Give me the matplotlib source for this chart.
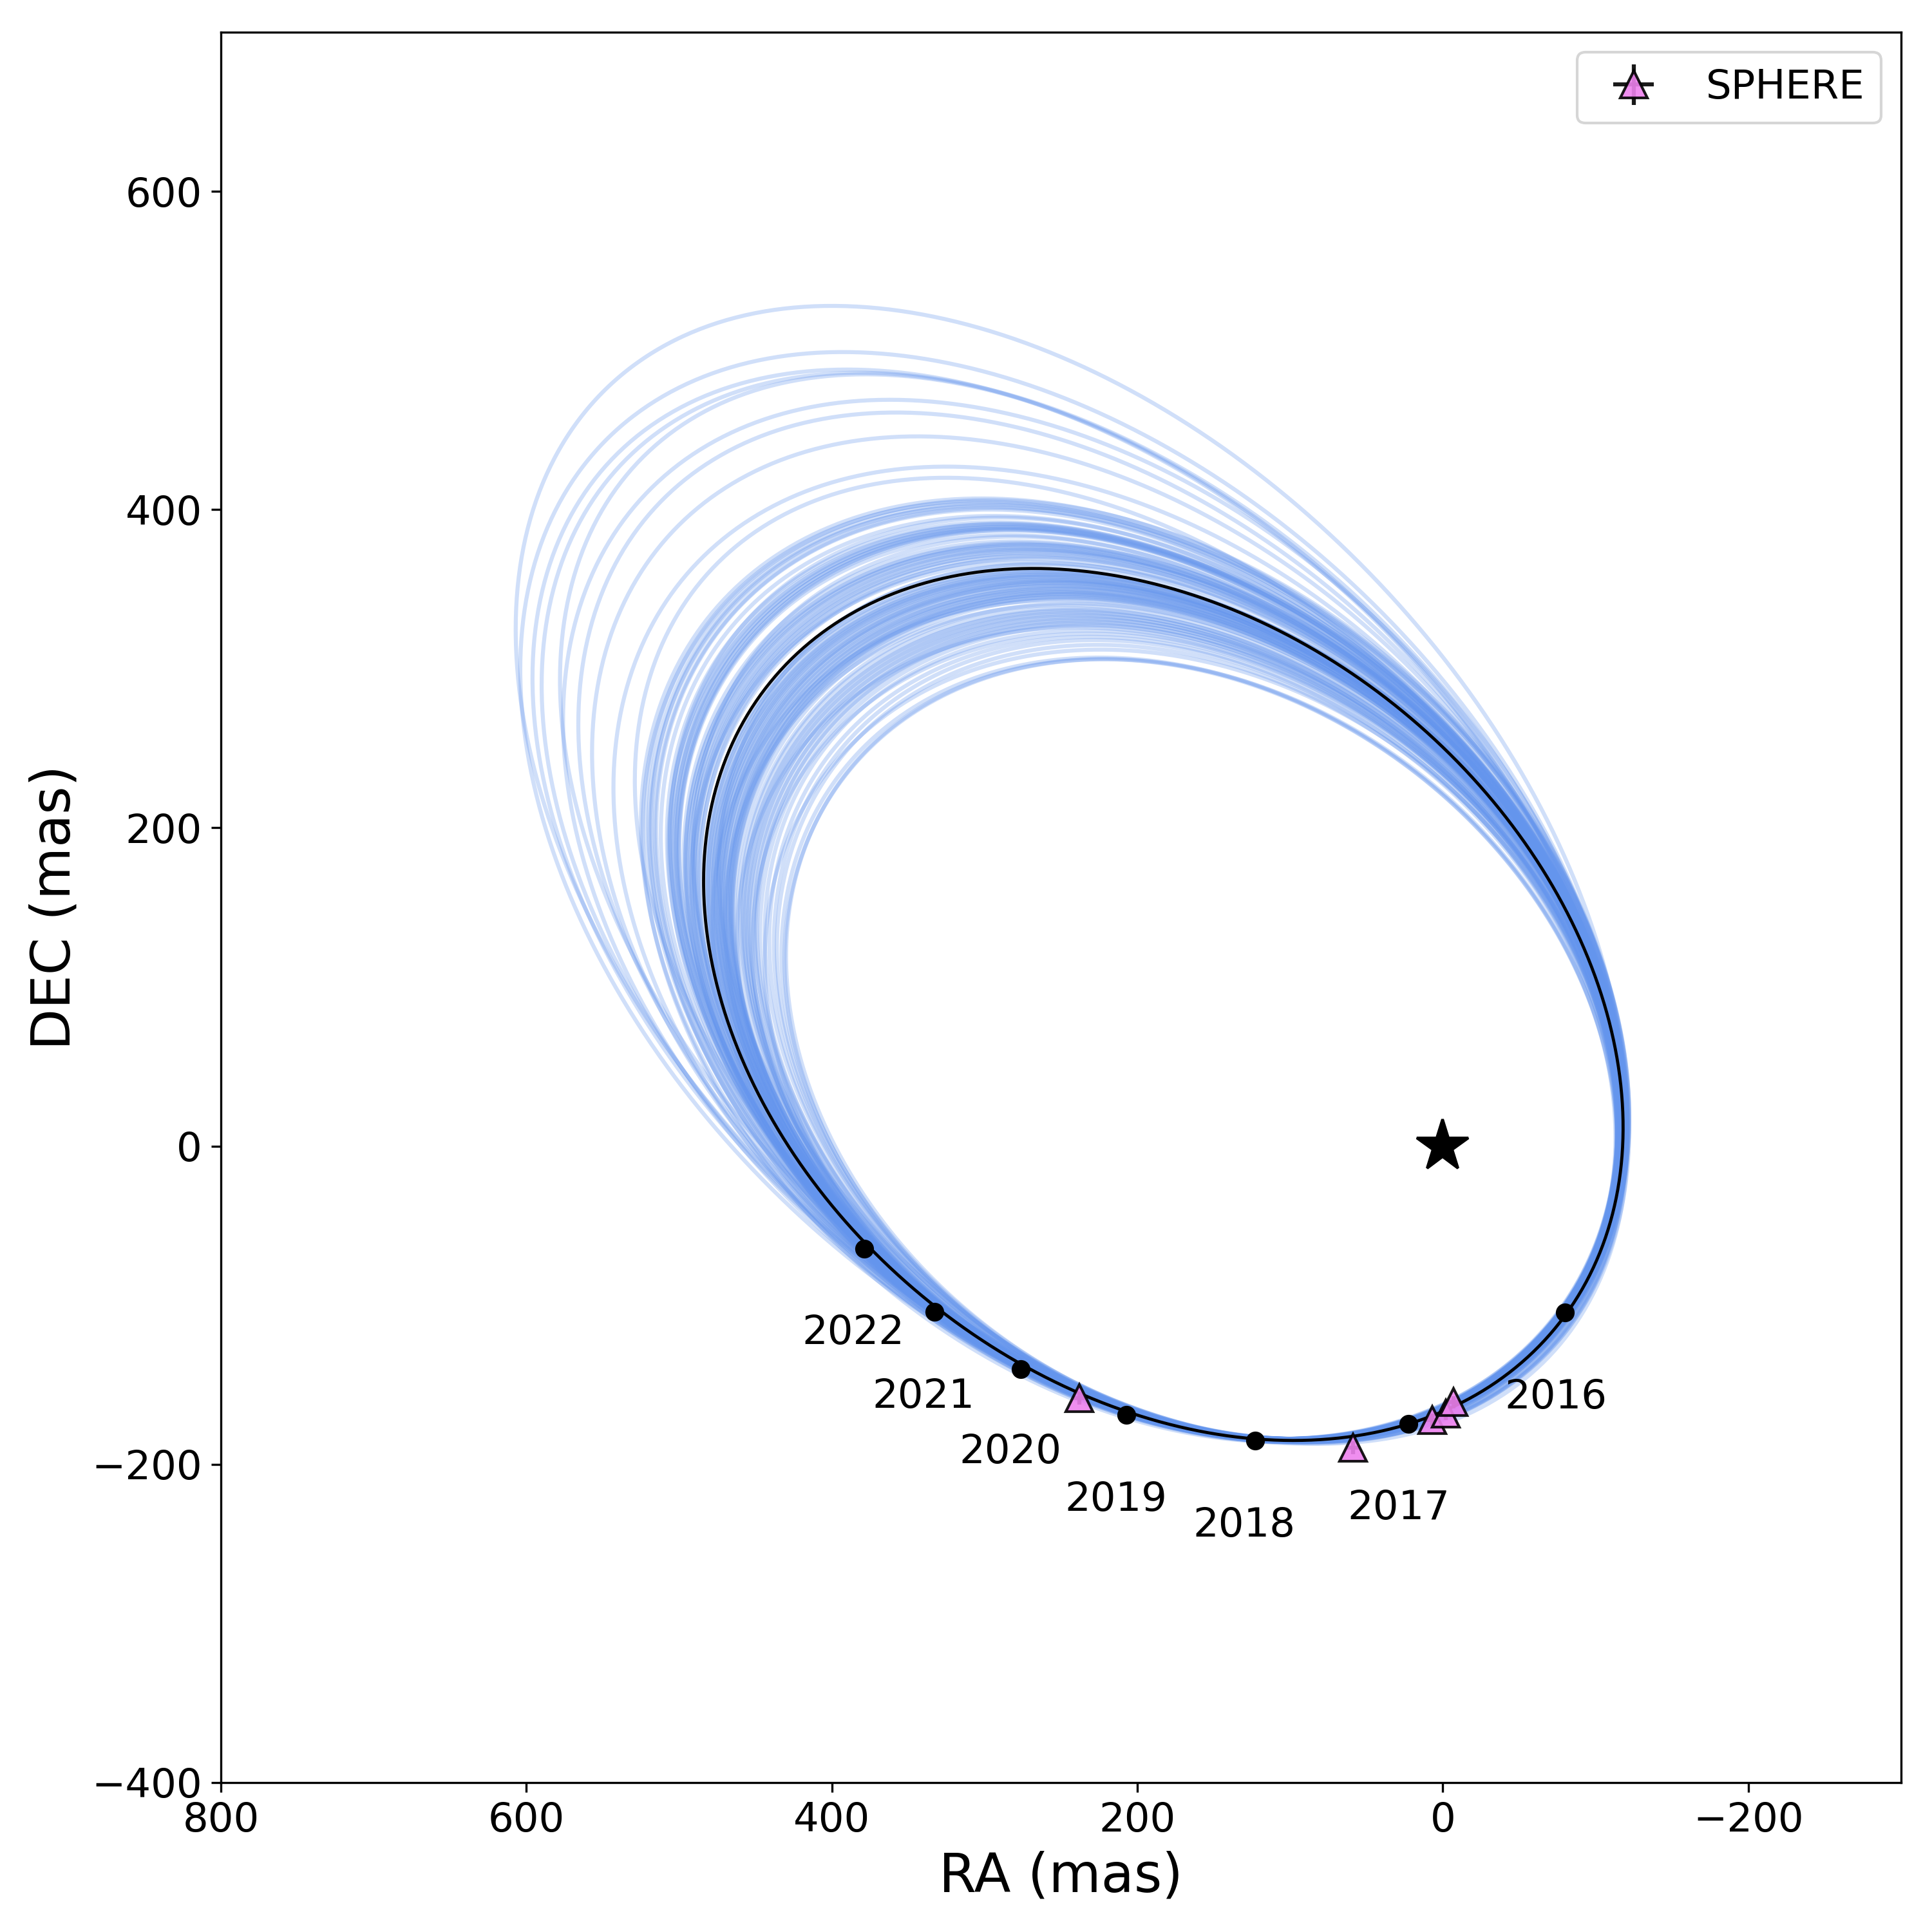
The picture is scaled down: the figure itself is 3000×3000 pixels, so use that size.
import numpy as np
import matplotlib
matplotlib.use('Agg')
import matplotlib.pyplot as plt

# Extents of each sampled orbit as read from the picture (mas):
# highest DEC, RA at that highest point, largest RA, smallest RA, lowest DEC
orbit_top = [528, 499, 488, 486, 485, 469, 461, 446, 427, 420,
             407, 406, 405, 404, 403, 402, 401, 400,
             392, 391, 391, 390, 389, 389, 388, 388, 387, 387,
             380, 379, 378, 378, 377, 376, 375, 375, 374, 373, 372, 371, 370, 369,
             362, 361, 361, 360, 359, 359, 358, 358, 357, 356, 356, 355, 355, 354,
             354, 353, 352, 352, 351, 350, 350, 349, 348, 348, 347, 347, 346, 345,
             345, 344,
             338, 337, 336, 335, 334, 333, 332, 331, 330, 329, 328, 327,
             324, 320, 318, 315, 307, 306, 306,
             396, 395, 384, 383, 367, 366, 365, 343, 341, 340, 326, 322, 312]
orbit_top_ra = [400, 393, 390, 382, 378, 362, 358, 344, 325, 325,
                302, 298, 303, 299, 296, 301, 295, 297,
                292, 287, 290, 286, 284, 289, 283, 287, 282, 285,
                280, 276, 278, 273, 277, 275, 271, 276, 272, 268, 273, 270, 266, 271,
                265, 262, 266, 260, 264, 259, 263, 258, 262, 257, 261, 254, 259, 256,
                253, 258, 252, 256, 251, 255, 249, 254, 248, 252, 250, 246, 251, 247,
                249, 245,
                246, 242, 245, 240, 243, 239, 241, 236, 240, 235, 238, 234,
                234, 231, 228, 226, 225, 221, 223,
                294, 290, 285, 280, 270, 262, 268, 252, 243, 248, 240, 232, 224]
orbit_far = [607, 604, 596, 590, 578, 576, 566, 557, 543, 529,
             525, 524, 522, 520, 519, 518, 516, 515,
             508, 507, 506, 505, 504, 503, 502, 502, 501, 500,
             497, 496, 496, 495, 494, 493, 492, 491, 490, 490, 489, 488, 487, 486,
             482, 481, 481, 480, 479, 478, 478, 477, 476, 476, 475, 475, 474, 473,
             473, 472, 472, 471, 470, 470, 469, 468, 468, 467, 467, 466, 466, 465,
             465, 464,
             460, 459, 458, 457, 456, 455, 454, 453, 451, 450, 449, 447,
             444, 441, 438, 436, 433, 431, 430,
             512, 506, 500, 491, 492, 483, 474, 478, 462, 470, 462, 452, 444]
orbit_near = [-120, -121, -120, -122, -121, -120, -121, -120, -119, -120,
              -122, -121, -120, -122, -121, -120, -122, -120,
              -121, -119, -120, -121, -119, -120, -118, -120, -119, -121,
              -118, -120, -119, -118, -120, -119, -117, -118, -119, -117, -118, -120, -117, -119,
              -118, -117, -119, -118, -116, -118, -117, -119, -116, -118, -117, -119, -116, -118,
              -117, -116, -118, -117, -116, -118, -115, -117, -116, -118, -115, -117, -116, -118,
              -116, -115,
              -117, -116, -115, -117, -116, -114, -116, -115, -116, -114, -115, -114,
              -115, -114, -115, -114, -114, -113, -114,
              -120, -119, -119, -118, -118, -118, -117, -117, -116, -117, -116, -115, -114]
orbit_bottom = [-186, -187, -186, -186, -187, -186, -186, -186, -186, -186,
                -186, -186, -185, -186, -185, -186, -185, -186,
                -185, -185, -186, -185, -185, -186, -185, -185, -185, -186,
                -185, -185, -185, -185, -185, -185, -184, -185, -185, -185, -184, -185, -185, -185,
                -185, -184, -185, -185, -184, -185, -184, -185, -184, -184, -185, -184, -185, -184,
                -185, -184, -184, -185, -184, -184, -185, -184, -184, -185, -184, -184, -185, -184,
                -184, -185,
                -184, -184, -185, -184, -184, -185, -184, -184, -184, -185, -184, -184,
                -184, -184, -185, -184, -184, -184, -185,
                -185, -185, -185, -185, -185, -185, -185, -184, -184, -184, -184, -184, -184]

# Extents of the best fit orbit
best_top, best_top_ra, best_far, best_near, best_bottom = 363, 268, 484, -118, -185

# Black dots on the best orbit, one per year
epoch_ra = [379, 333, 276.5, 207, 123, 22.5, -80]
epoch_dec = [-64.5, -104, -140, -169, -185, -174.5, -104.5]

# Year labels next to the dots
year_labels = ['2022', '2021', '2020', '2019', '2018', '2017', '2016']
year_ra = [386, 340, 283, 214, 130, 29, -74]
year_dec = [-117.5, -157.5, -192.5, -222.5, -238.5, -227.5, -158]

# SPHERE astrometry
sphere_ra = [238, 59, 7, -2, -7]
sphere_dec = [-158.5, -189.5, -172, -168, -161]
sphere_ra_err = [4, 4, 4, 4, 4]
sphere_dec_err = [4, 4, 4, 4, 4]


def ellipse_from_extents(top, top_ra, far, near, bottom):
    # Turn the extents
    t = np.linspace(0, 2 * np.pi, 600)
    cx, cy = (far + near) / 2, (top + bottom) / 2
    hx, hy = (far - near) / 2, (top - bottom) / 2
    rho = (top_ra - cx) / hx
    x = cx + hx * np.cos(t)
    y = cy + hy * (rho * np.cos(t) + np.sqrt(1 - rho ** 2) * np.sin(t))
    return x, y


fig, ax = plt.subplots(figsize=(10, 10), dpi=300)
fig.subplots_adjust(left=343 / 3000, right=2952 / 3000, top=1 - 50 / 3000, bottom=1 - 2768 / 3000)

# Sampled orbits
for i in range(len(orbit_top)):
    x, y = ellipse_from_extents(orbit_top[i], orbit_top_ra[i], orbit_far[i], orbit_near[i], orbit_bottom[i])
    ax.plot(x, y, color='cornflowerblue', alpha=0.3, lw=1.5, solid_capstyle='butt')

# Best orbit on top
x, y = ellipse_from_extents(best_top, best_top_ra, best_far, best_near, best_bottom)
ax.plot(x, y, color='k', lw=1.15, solid_capstyle='butt')

ax.plot(epoch_ra, epoch_dec, 'o', color='k', ms=7, mew=0)
for label, tx, ty in zip(year_labels, year_ra, year_dec):
    ax.text(tx, ty, label, fontsize=15, ha='center', va='center')

ax.errorbar(sphere_ra, sphere_dec, xerr=sphere_ra_err, yerr=sphere_dec_err, fmt='^', color='violet',
            ecolor='k', mec='k', ms=10, mew=1, alpha=0.9, label='SPHERE', zorder=5)
ax.plot([0], [0], '*', color='k', ms=20)

ax.set_xlim(800, -300)
ax.set_ylim(-400, 700)
ax.set_xticks([800, 600, 400, 200, 0, -200])
ax.set_yticks([-400, -200, 0, 200, 400, 600])
ax.tick_params(labelsize=15)
ax.set_xlabel('RA (mas)', fontsize=20)
ax.set_ylabel('DEC (mas)', fontsize=20)
ax.legend(loc='upper right', fontsize=15)

plt.savefig('out.png', dpi=300)
